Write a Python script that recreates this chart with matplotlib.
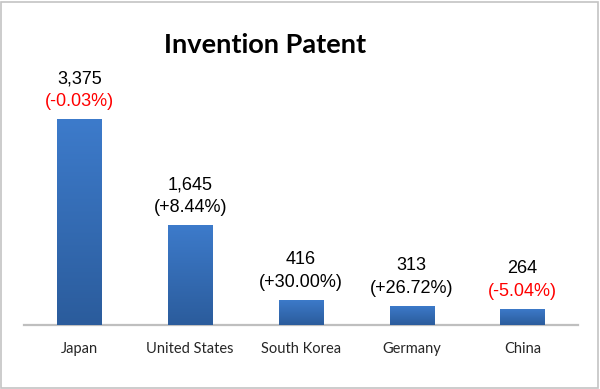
import matplotlib.pyplot as plt
import numpy as np
from matplotlib.patches import Rectangle
from matplotlib.colors import LinearSegmentedColormap

# chart data
countries = ['Japan', 'United States', 'South Korea', 'Germany', 'China']
patents = [3375, 1645, 416, 313, 264]
changes = ['(-0.03%)', '(+8.44%)', '(+30.00%)', '(+26.72%)', '(-5.04%)']
change_colors = ['#FF0000', '#000000', '#000000', '#000000', '#FF0000']

fig = plt.figure(figsize=(6.0, 3.89), dpi=100)
fig.patch.set_facecolor('white')
fig.patches.append(Rectangle((0.002, 0.003), 0.995, 0.993, transform=fig.transFigure,
                             fill=False, edgecolor='#C4C4C4', linewidth=1.2))

ax = fig.add_axes([0.04, 0.1645, 0.923, 0.7326])
x = np.arange(len(countries))
bars = ax.bar(x, patents, width=0.4, color='#3470BB', zorder=2)

# vertical gradient on each bar, like the original
grad = np.linspace(0, 1, 256).reshape(-1, 1)
cmap = LinearSegmentedColormap.from_list('bar', ['#2B5C9C', '#3D7BCB'])
for b in bars:
    bx, by = b.get_x(), b.get_y()
    im = ax.imshow(grad, cmap=cmap, aspect='auto', origin='lower',
                   extent=(bx, bx + b.get_width(), by, by + b.get_height()), zorder=3)
    im.set_clip_path(b)

ax.set_xlim(-0.5, len(countries) - 0.5)
ax.set_ylim(0, 4669)

for i, (v, c, col) in enumerate(zip(patents, changes, change_colors)):
    ax.annotate(f'{v:,}', (i, v), xytext=(0, 28.8), textcoords='offset points',
                ha='center', va='center', fontsize=13, family='Liberation Sans', color='black')
    ax.annotate(c, (i, v), xytext=(0, 12.5), textcoords='offset points',
                ha='center', va='center', fontsize=13, family='Liberation Sans', color=col)

ax.set_xticks(x)
ax.set_xticklabels(countries, fontsize=10.5, family='Lato', color='#262626')
ax.tick_params(axis='x', length=0, pad=12)
ax.set_yticks([])
for s in ['top', 'right', 'left']:
    ax.spines[s].set_visible(False)
ax.spines['bottom'].set_color('#BFBFBF')
ax.spines['bottom'].set_linewidth(1.6)

fig.text(265 / 600, 1 - 45 / 389, 'Invention Patent', ha='center', va='center',
         fontsize=19.5, fontweight='bold', family='Lato')

fig.savefig('out.png', dpi=100)
